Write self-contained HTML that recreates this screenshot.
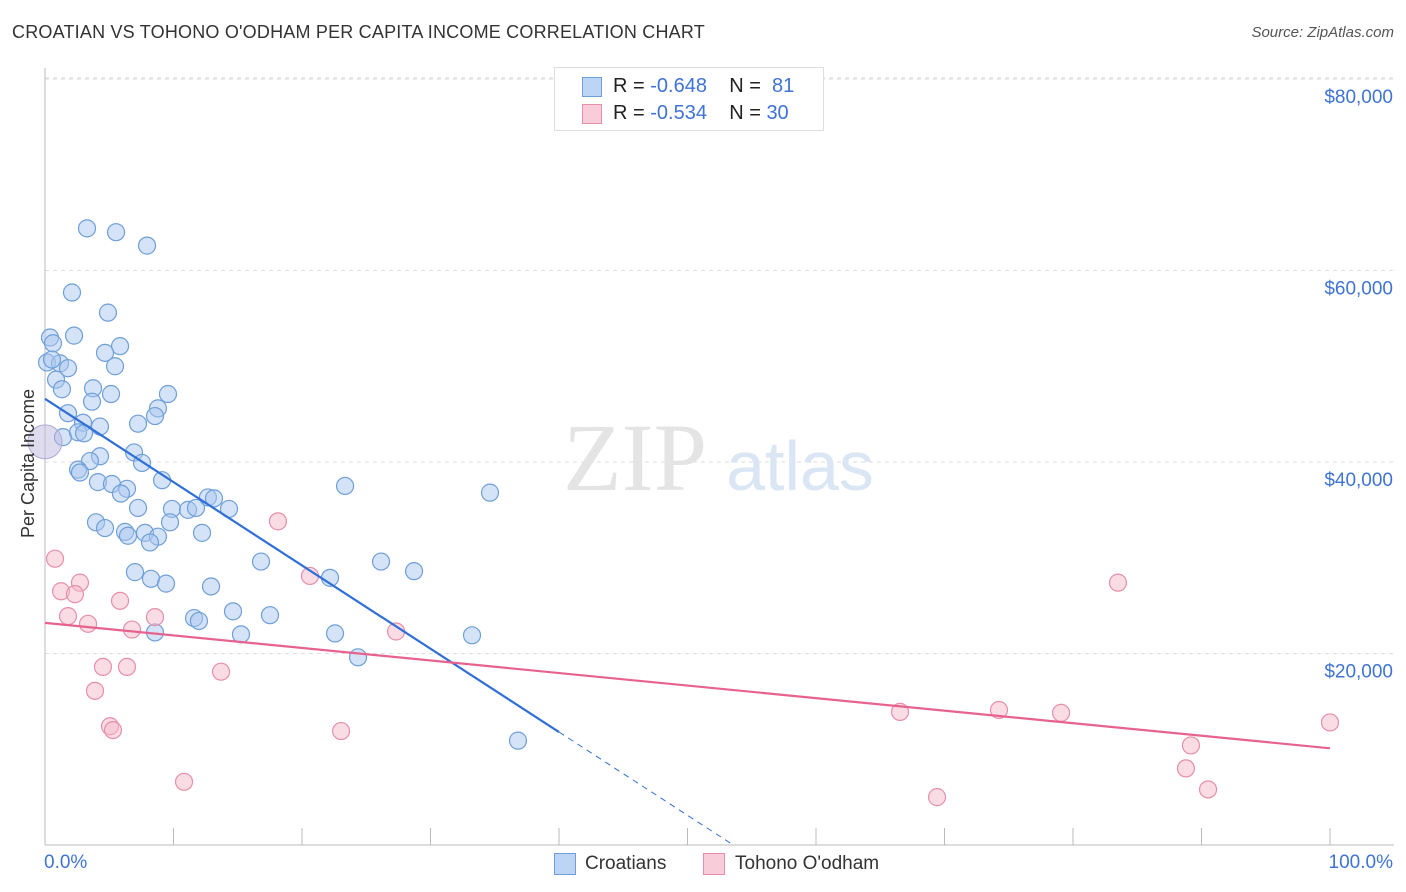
<!DOCTYPE html>
<html><head><meta charset="utf-8">
<style>
body{margin:0;background:#fff;font-family:"Liberation Sans",sans-serif;}
#wrap{position:relative;width:1406px;height:892px;overflow:hidden;}
.t{position:absolute;white-space:nowrap;}
</style></head>
<body>
<div id="wrap">
<div class="t" style="left:12px;top:22px;font-size:18px;color:#333;letter-spacing:0.2px">CROATIAN VS TOHONO O'ODHAM PER CAPITA INCOME CORRELATION CHART</div>
<div class="t" style="right:12px;top:24px;font-size:15px;color:#555;font-style:italic">Source: ZipAtlas.com</div>
<svg id="svg" width="1406" height="892" style="position:absolute;left:0;top:0"></svg>
</div>
<script>
const yTicks=[20000,40000,60000,80000];
const yTickLabels=["$20,000","$40,000","$60,000","$80,000"];
const blueX=[3.27,5.53,7.94,2.10,4.90,0.39,2.26,0.62,5.84,4.67,0.16,1.17,0.54,1.79,5.45,0.86,1.32,3.74,5.14,9.57,3.66,8.79,1.79,8.56,2.96,7.24,4.28,1.40,2.57,3.04,6.93,4.28,3.50,7.55,2.57,2.72,9.11,4.12,5.21,6.38,5.91,23.35,34.63,12.68,13.15,7.24,9.88,11.13,11.75,14.32,3.97,9.73,4.67,6.23,6.46,7.78,8.79,12.22,8.17,16.81,26.15,7.00,28.72,8.25,9.42,22.18,12.92,14.63,17.51,11.60,11.98,8.56,15.25,22.57,33.23,24.36,36.81];
const blueY=[64.4,64.0,62.6,57.7,55.6,53.0,53.2,52.4,52.1,51.4,50.4,50.3,50.7,49.8,50.0,48.6,47.6,47.7,47.1,47.1,46.3,45.6,45.1,44.8,44.1,44.0,43.7,42.6,43.1,43.0,41.0,40.6,40.1,39.9,39.2,38.9,38.1,37.9,37.7,37.2,36.7,37.5,36.8,36.3,36.2,35.2,35.1,35.0,35.2,35.1,33.7,33.7,33.1,32.7,32.3,32.6,32.2,32.6,31.6,29.6,29.6,28.5,28.6,27.8,27.3,27.9,27.0,24.4,24.0,23.7,23.4,22.2,22.0,22.1,21.9,19.6,10.9];
const pinkX=[0.78,1.25,2.72,2.33,1.79,3.35,5.84,8.56,6.77,18.13,20.62,27.32,4.51,6.38,3.89,13.70,5.06,5.29,23.04,10.82,83.5,66.54,74.24,79.07,100,89.18,88.79,90.51,69.42];
const pinkY=[29.9,26.5,27.4,26.2,23.9,23.1,25.5,23.8,22.5,33.8,28.1,22.3,18.6,18.6,16.1,18.1,12.4,12.0,11.9,6.6,27.4,13.9,14.1,13.8,12.8,10.4,8.0,5.8,5.0];
const blueTrend=[46.6,-0.87]; // intercept (k$), slope per %
const pinkTrend=[23.2,-0.131];
const X0=45,X1=1330,Y0=845,PXK=9.575;
const sx=v=>X0+(X1-X0)*v/100;
const sy=k=>Y0-k*PXK;
const svg=document.getElementById('svg');
const NS='http://www.w3.org/2000/svg';
function mk(tag,attrs){const e=document.createElementNS(NS,tag);for(const k in attrs)e.setAttribute(k,attrs[k]);svg.appendChild(e);return e;}
// gridlines
yTicks.forEach((v,i)=>{
 const g=mk('line',{x1:45,x2:1394,y1:sy(v/1000),y2:sy(v/1000),stroke:'#ddd','stroke-dasharray':'4,4'});
 
 
 const t=mk('text',{x:1393,y:sy(v/1000)+24,'text-anchor':'end','font-size':19,fill:'#3f74d4','font-family':'Liberation Sans'});
 t.textContent=yTickLabels[i];
 
 
});
const topg=mk('line',{x1:45,x2:1394,y1:78,y2:78,stroke:'#ddd','stroke-dasharray':'4,4'});


const ax=mk('line',{x1:45,x2:1394,y1:845,y2:845,stroke:'#bbb'});


const ay=mk('line',{x1:45,x2:45,y1:68,y2:845,stroke:'#bbb'});


for(let i=1;i<=10;i++){const tk=mk('line',{x1:sx(i*10),x2:sx(i*10),y1:828,y2:845,stroke:'#bbb'});
 
 }
// watermark
const w1=mk('text',{x:635,y:490,'text-anchor':'middle','font-size':96,fill:'#e4e4e4','font-family':'Liberation Serif'});w1.textContent='ZIP';


const w2=mk('text',{x:800,y:490,'text-anchor':'middle','font-size':70,fill:'#dbe6f5','font-family':'Liberation Sans'});w2.textContent='atlas';


// points
function pts(xs,ys,fill,stroke,name){xs.forEach((x,i)=>{const c=mk('circle',{cx:sx(x),cy:sy(ys[i]),r:8.5,fill:fill,'fill-opacity':0.5,stroke:stroke,'stroke-width':1.2});
 
 });}
pts(blueX,blueY,'#a9c8f0','#6f9fd8','croatian-point');
pts(pinkX,pinkY,'#f6b9cb','#e68fab','tohono-point');
const bb=mk('circle',{cx:sx(0),cy:sy(42.1),r:17,fill:'#c0b8e0','fill-opacity':0.5,stroke:'#b0a8d8'});


// trends
const bEnd=40, bZero=-blueTrend[0]/blueTrend[1];
const bl=mk('line',{x1:sx(0),y1:sy(blueTrend[0]),x2:sx(bEnd),y2:sy(blueTrend[0]+blueTrend[1]*bEnd),stroke:'#2f6fd6','stroke-width':2.2});


const bd=mk('line',{x1:sx(bEnd),y1:sy(blueTrend[0]+blueTrend[1]*bEnd),x2:sx(bZero),y2:sy(0),stroke:'#2f6fd6','stroke-width':1,'stroke-dasharray':'6,5'});


const pl=mk('line',{x1:sx(0),y1:sy(pinkTrend[0]),x2:sx(100),y2:sy(pinkTrend[0]+pinkTrend[1]*100),stroke:'#e8628f','stroke-width':2.2});


</script>
<!-- legend top -->
<div style="position:absolute;left:554px;top:67px;width:268px;height:62px;border:1px solid #ddd;background:#fff">
 <div style="position:absolute;left:27px;top:9px;width:18px;height:18px;background:#bcd5f5;border:1px solid #6f9fd8"></div>
 <div class="t" style="left:58px;top:7px;font-size:20px;color:#222">R = <span style="color:#3f74d4">-0.648</span>&nbsp;&nbsp;&nbsp; N = &nbsp;<span style="color:#3f74d4">81</span></div>
 <div style="position:absolute;left:27px;top:36px;width:18px;height:18px;background:#f9ccd9;border:1px solid #e68fab"></div>
 <div class="t" style="left:58px;top:34px;font-size:20px;color:#222">R = <span style="color:#3f74d4">-0.534</span>&nbsp;&nbsp;&nbsp; N = <span style="color:#3f74d4">30</span></div>
</div>
<div class="t" style="left:44px;top:852px;font-size:19px;color:#3f74d4">0.0%</div>
<div class="t" style="right:13px;top:852px;font-size:19px;color:#3f74d4">100.0%</div>
<div class="t" style="left:8px;top:455px;font-size:18px;color:#333;transform:rotate(-90deg);transform-origin:0 0;left:18px;top:538px">Per Capita Income</div>
<div style="position:absolute;left:554px;top:853px;width:20px;height:20px;background:#bcd5f5;border:1px solid #6f9fd8"></div>
<div class="t" style="left:585px;top:853px;font-size:19px;color:#333">Croatians</div>
<div style="position:absolute;left:703px;top:853px;width:20px;height:20px;background:#f9ccd9;border:1px solid #e68fab"></div>
<div class="t" style="left:735px;top:853px;font-size:19px;color:#333">Tohono O'odham</div>
</body></html>
